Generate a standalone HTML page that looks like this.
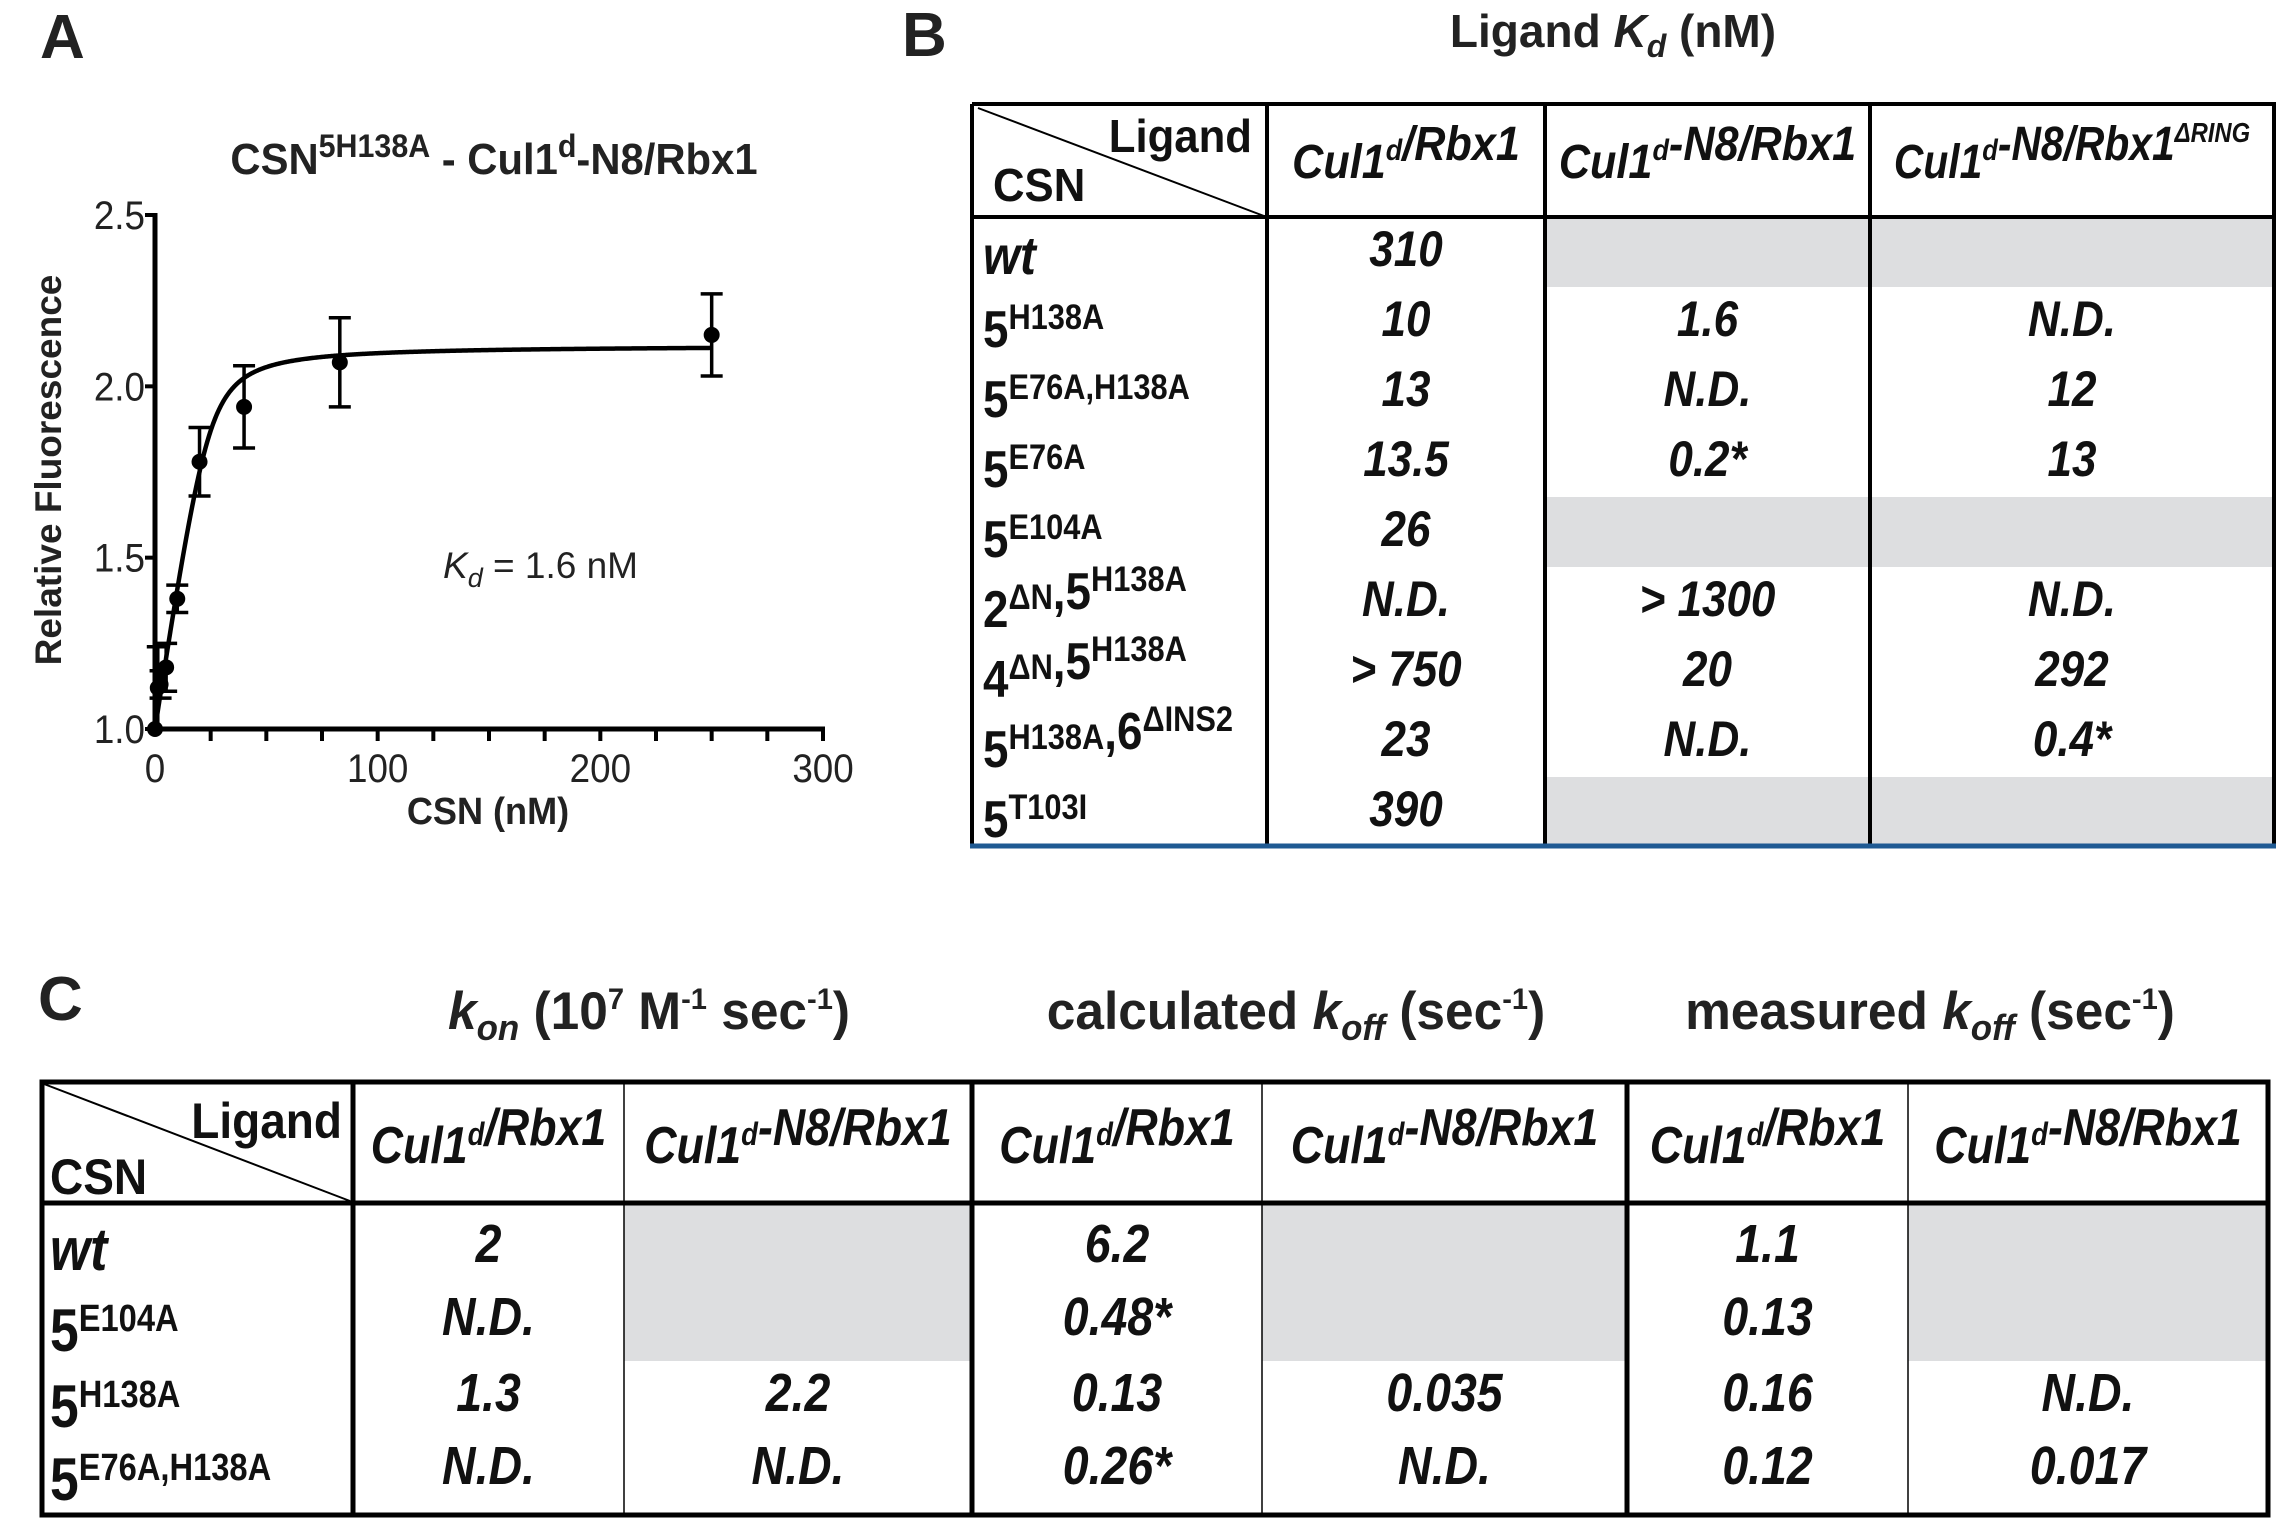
<!DOCTYPE html>
<html><head><meta charset="utf-8"><style>
html,body{margin:0;padding:0;background:#fff}
svg{display:block;font-family:"Liberation Sans",sans-serif}
</style></head><body>
<svg id="root" width="2283" height="1532" viewBox="0 0 2283 1532" xmlns="http://www.w3.org/2000/svg">
<g id="panelA"></g>
<g id="panelB"></g>
<g id="panelC"></g>
</svg>
<script>
// ---- chart data ----
const conc = [0, 1.25, 2.5, 5, 10, 20, 40, 83, 250];
const fluor = [1.0, 1.12, 1.13, 1.18, 1.38, 1.78, 1.94, 2.07, 2.15];
const errs = [0, 0.12, 0.04, 0.07, 0.04, 0.10, 0.12, 0.13, 0.12];
const xTicks = [0, 100, 200, 300];
const yTicks = [1.0, 1.5, 2.0, 2.5];
const kdFit = [1.6];
const plateau = [2.12];

const NS = "http://www.w3.org/2000/svg";
function mk(parent, tag, attrs, text) {
  const e = document.createElementNS(NS, tag);
  for (const k in attrs) e.setAttribute(k, attrs[k]);
  if (text !== undefined) e.textContent = text;
  parent.appendChild(e);
  return e;
}
const A = document.getElementById('panelA');
const X0 = 155, X1 = 823, Y0 = 729, Y1 = 215;
const xs = v => X0 + (v - 0) / 300 * (X1 - X0);
const ys = v => Y0 - (v - 1.0) / 1.5 * (Y0 - Y1);

let t;
t = mk(A, 'text', {x: 40, y: 58, 'font-size': 62, 'font-weight': 'bold', fill: '#222'}, 'A');


t = mk(A, 'text', {x: 0, y: 0, 'font-size': 44, 'font-weight': 'bold', 'text-anchor': 'middle', fill: '#222', transform: 'translate(494,174) scale(0.95,1)'});


t.innerHTML = 'CSN<tspan font-size="32" dy="-17">5H138A</tspan><tspan dy="17"> - Cul1</tspan><tspan font-size="32" dy="-17">d</tspan><tspan dy="17">-N8/Rbx1</tspan>';

// axes
let ax = mk(A, 'line', {x1: X0, y1: Y1 - 2, x2: X0, y2: Y0 + 3, stroke: '#000', 'stroke-width': 5});


ax = mk(A, 'line', {x1: X0 - 3, y1: Y0, x2: X1 + 2, y2: Y0, stroke: '#000', 'stroke-width': 5});


for (let v = 25; v <= 300; v += 25) {
  const tk = mk(A, 'line', {x1: xs(v), y1: Y0, x2: xs(v), y2: Y0 + 12, stroke: '#000', 'stroke-width': 4});
  
  
}
xTicks.forEach(v => {
  const l = mk(A, 'text', {x: 0, y: 0, 'font-size': 40, 'text-anchor': 'middle', fill: '#222', transform: `translate(${xs(v)},782) scale(0.92,1)`}, String(v));
  
  
});
yTicks.forEach(v => {
  const tk = mk(A, 'line', {x1: X0 - 10, y1: ys(v), x2: X0, y2: ys(v), stroke: '#000', 'stroke-width': 4});
  
  
  const l = mk(A, 'text', {x: 0, y: 0, 'font-size': 40, 'text-anchor': 'end', fill: '#222', transform: `translate(${X0 - 10},${ys(v) + 14}) scale(0.92,1)`}, v.toFixed(1));
  
  
});
t = mk(A, 'text', {x: 0, y: 0, 'font-size': 38, 'font-weight': 'bold', 'text-anchor': 'middle', fill: '#222', transform: 'translate(488,824) scale(0.95,1)'}, 'CSN (nM)');


t = mk(A, 'text', {x: 0, y: 0, 'font-size': 37, 'font-weight': 'bold', 'text-anchor': 'middle', fill: '#222', transform: 'translate(61,470) rotate(-90)'}, 'Relative Fluorescence');


t = mk(A, 'text', {x: 443, y: 578, 'font-size': 37, fill: '#222'});


t.innerHTML = '<tspan font-style="italic">K</tspan><tspan font-style="italic" font-size="27" dy="9">d</tspan><tspan dy="-9"> = 1.6 nM</tspan>';

// fit curve (quadratic binding)
const L = 25;
function fit(P) {
  const s = P + L + kdFit[0];
  const b = (s - Math.sqrt(s * s - 4 * P * L)) / (2 * L);
  return 1 + (plateau[0] - 1) * b;
}
let d = '';
for (let i = 0; i <= 600; i++) {
  const P = 250 * Math.pow(i / 600, 1.6);
  d += (i ? 'L' : 'M') + xs(P).toFixed(2) + ' ' + ys(fit(P)).toFixed(2);
}
const fc = mk(A, 'path', {d: d, fill: 'none', stroke: '#000', 'stroke-width': 4.5});


conc.forEach((c, i) => {
  const x = xs(c), y = ys(fluor[i]);
  if (errs[i] > 0) {
    const e = mk(A, 'path', {d: `M${x} ${ys(fluor[i] + errs[i])}V${ys(fluor[i] - errs[i])}M${x - 11} ${ys(fluor[i] + errs[i])}H${x + 11}M${x - 11} ${ys(fluor[i] - errs[i])}H${x + 11}`, stroke: '#000', 'stroke-width': 3.5, fill: 'none'});
    
    
  }
  const p = mk(A, 'circle', {cx: x, cy: y, r: 8, fill: '#000'});
  
  
});

// ---- Table helpers ----
function cellText(g, x, y, html, size, anchor, italic, sx) {
  const e = mk(g, 'text', {x: 0, y: 0, 'font-size': size, 'font-weight': 'bold', 'font-style': italic ? 'italic' : 'normal', 'text-anchor': anchor, fill: '#111', transform: `translate(${x},${y}) scale(${sx},1)`});
  e.innerHTML = html;
  return e;
}
function sup(s, fs, dy) { dy = dy || 18; return `<tspan font-size="${fs}" dy="-${dy}">${s}</tspan><tspan dy="${dy}"></tspan>`; }

// ---- Panel B ----
const B = document.getElementById('panelB');
t = mk(B, 'text', {x: 902, y: 56, 'font-size': 62, 'font-weight': 'bold', fill: '#222'}, 'B');


t = mk(B, 'text', {x: 1613, y: 47, 'font-size': 46, 'font-weight': 'bold', 'text-anchor': 'middle', fill: '#222'});


t.innerHTML = 'Ligand <tspan font-style="italic">K</tspan><tspan font-style="italic" font-size="32" dy="10">d</tspan><tspan dy="-10"> (nM)</tspan>';

const bCols = [972, 1267, 1545, 1870, 2274];
const bTop = 104, bHead = 217, bRowH = 70;
const bRows = [
  ['<tspan font-style="italic" font-size="54">wt</tspan>', '310', null, null],
  ['5' + sup('H138A', 35), '10', '1.6', 'N.D.'],
  ['5' + sup('E76A,H138A', 35), '13', 'N.D.', '12'],
  ['5' + sup('E76A', 35), '13.5', '0.2*', '13'],
  ['5' + sup('E104A', 35), '26', null, null],
  ['2' + sup('ΔN', 35) + ',5' + sup('H138A', 35), 'N.D.', '&gt; 1300', 'N.D.'],
  ['4' + sup('ΔN', 35) + ',5' + sup('H138A', 35), '&gt; 750', '20', '292'],
  ['5' + sup('H138A', 35) + ',6' + sup('ΔINS2', 35), '23', 'N.D.', '0.4*'],
  ['5' + sup('T103I', 35), '390', null, null]
];
bRows.forEach((r, i) => {
  const y0 = bHead + i * bRowH;
  for (let c = 1; c < 4; c++) {
    if (r[c] === null) {
      const g = mk(B, 'rect', {x: bCols[c], y: y0, width: bCols[c + 1] - bCols[c], height: bRowH, fill: '#dddee0'});
      
      
    }
  }
});
bRows.forEach((r, i) => {
  const yc = bHead + i * bRowH + 49;
  const lab = cellText(B, 983, yc + (i === 0 ? 8 : 11), r[0], 52, 'start', false, 0.88);
  
  
  for (let c = 1; c < 4; c++) {
    if (r[c] !== null) {
      const v = cellText(B, (bCols[c] + bCols[c + 1]) / 2, yc, r[c], 50, 'middle', true, 0.88);
      
      
    }
  }
});
// header
t = cellText(B, 1252, 152, 'Ligand', 46, 'end', false, 0.95);


t = cellText(B, 993, 201, 'CSN', 46, 'start', false, 0.95);


const bHeads = ['Cul1' + sup('d', 30) + '/Rbx1', 'Cul1' + sup('d', 30) + '-N8/Rbx1', 'Cul1' + sup('d', 30) + '-N8/Rbx1' + sup('ΔRING', 28)];
const bHeadSx = [0.9, 0.9, 0.85];
bHeads.forEach((h, i) => {
  const e = cellText(B, (bCols[i + 1] + bCols[i + 2]) / 2, 178, h, 48, 'middle', true, bHeadSx[i]);
  
  
});
let ln = mk(B, 'line', {x1: 978, y1: 108, x2: 1264, y2: 216, stroke: '#000', 'stroke-width': 2});


ln = mk(B, 'path', {d: `M${bCols[0]} ${bTop}H${bCols[4]}V846M${bCols[0]} ${bTop}V846M${bCols[0]} ${bHead}H${bCols[4]}M${bCols[1]} ${bTop}V846M${bCols[2]} ${bTop}V846M${bCols[3]} ${bTop}V846`, stroke: '#000', 'stroke-width': 4, fill: 'none'});


ln = mk(B, 'line', {x1: bCols[0] - 2, y1: 846, x2: bCols[4] + 2, y2: 846, stroke: '#1f5a93', 'stroke-width': 5});



// ---- Panel C ----
const C = document.getElementById('panelC');
t = mk(C, 'text', {x: 38, y: 1020, 'font-size': 62, 'font-weight': 'bold', fill: '#222'}, 'C');


const cTitles = [
  [649, '<tspan font-style="italic">k</tspan><tspan font-style="italic" font-size="36" dy="11">on</tspan><tspan dy="-11"> (10</tspan><tspan font-size="30" dy="-20">7</tspan><tspan dy="20"> M</tspan><tspan font-size="30" dy="-20">-1</tspan><tspan dy="20"> sec</tspan><tspan font-size="30" dy="-20">-1</tspan><tspan dy="20">)</tspan>'],
  [1296, 'calculated <tspan font-style="italic">k</tspan><tspan font-style="italic" font-size="36" dy="11">off</tspan><tspan dy="-11"> (sec</tspan><tspan font-size="30" dy="-20">-1</tspan><tspan dy="20">)</tspan>'],
  [1930, 'measured <tspan font-style="italic">k</tspan><tspan font-style="italic" font-size="36" dy="11">off</tspan><tspan dy="-11"> (sec</tspan><tspan font-size="30" dy="-20">-1</tspan><tspan dy="20">)</tspan>']
];
cTitles.forEach(ct => {
  const e = mk(C, 'text', {x: 0, y: 0, 'font-size': 53, 'font-weight': 'bold', 'text-anchor': 'middle', fill: '#222', transform: `translate(${ct[0]},1029) scale(0.97,1)`});
  e.innerHTML = ct[1];
  
  
});
const cCols = [42, 353, 624, 972, 1262, 1627, 1908, 2268];
const cTop = 1082, cHead = 1203, cBot = 1515;
const cRowY = [1244, 1317, 1393, 1466];
const cGrayEnd = 1361;
const cRows = [
  ['<tspan font-style="italic" font-size="60">wt</tspan>', '2', null, '6.2', null, '1.1', null],
  ['5' + sup('E104A', 38, 20), 'N.D.', null, '0.48*', null, '0.13', null],
  ['5' + sup('H138A', 38, 20), '1.3', '2.2', '0.13', '0.035', '0.16', 'N.D.'],
  ['5' + sup('E76A,H138A', 38, 20), 'N.D.', 'N.D.', '0.26*', 'N.D.', '0.12', '0.017']
];
for (let c = 1; c < 7; c++) if (cRows[0][c] === null) {
  const g = mk(C, 'rect', {x: cCols[c], y: cHead, width: cCols[c + 1] - cCols[c], height: cGrayEnd - cHead, fill: '#dddee0'});
  
  
}
cRows.forEach((r, i) => {
  const yc = cRowY[i] + 18;
  const lab = cellText(C, 50, yc + (i === 0 ? 8 : 16), r[0], 60, 'start', false, 0.86);
  
  
  for (let c = 1; c < 7; c++) if (r[c] !== null) {
    const v = cellText(C, (cCols[c] + cCols[c + 1]) / 2, yc, r[c], 54, 'middle', true, 0.86);
    
    
  }
});
t = cellText(C, 342, 1138, 'Ligand', 50, 'end', false, 0.92);


t = cellText(C, 50, 1194, 'CSN', 50, 'start', false, 0.92);


for (let c = 1; c < 7; c++) {
  const h = (c % 2 === 1) ? 'Cul1' + sup('d', 32) + '/Rbx1' : 'Cul1' + sup('d', 32) + '-N8/Rbx1';
  const e = cellText(C, (cCols[c] + cCols[c + 1]) / 2, 1163, h, 52, 'middle', true, 0.86);
  
  
}
ln = mk(C, 'line', {x1: 44, y1: 1084, x2: 350, y2: 1201, stroke: '#000', 'stroke-width': 2});


ln = mk(C, 'path', {d: `M${cCols[0]} ${cTop}H${cCols[7]}V${cBot}H${cCols[0]}ZM${cCols[0]} ${cHead}H${cCols[7]}M${cCols[1]} ${cTop}V${cBot}M${cCols[3]} ${cTop}V${cBot}M${cCols[5]} ${cTop}V${cBot}`, stroke: '#000', 'stroke-width': 5, fill: 'none'});


ln = mk(C, 'path', {d: `M${cCols[2]} ${cTop}V${cBot}M${cCols[4]} ${cTop}V${cBot}M${cCols[6]} ${cTop}V${cBot}`, stroke: '#000', 'stroke-width': 1.5, fill: 'none'});


</script>
</body></html>
